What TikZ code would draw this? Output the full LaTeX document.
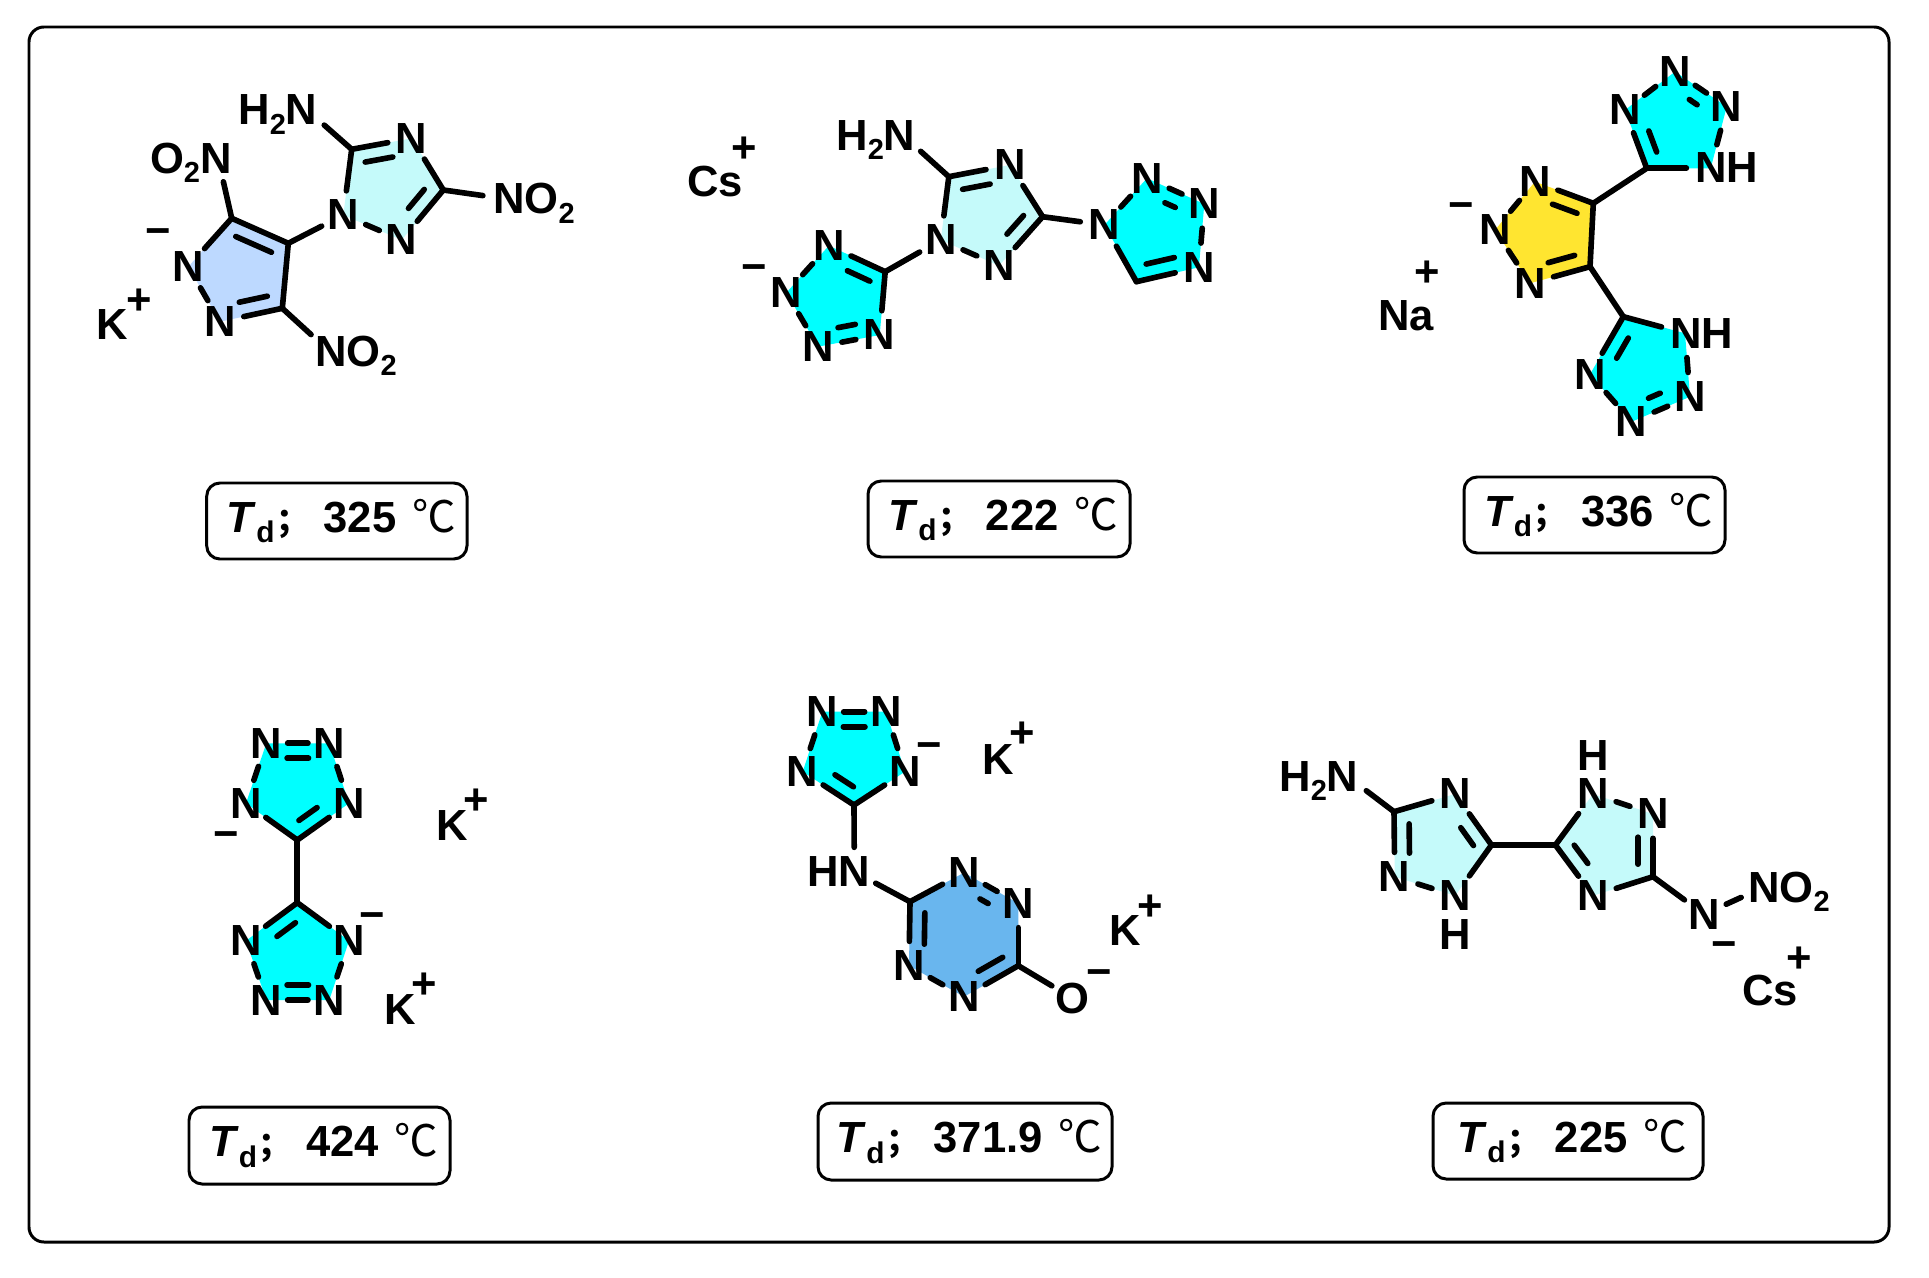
\documentclass[tikz,border=0pt]{standalone}
\usepackage{fontspec}
\setmainfont{Liberation Sans}
\newfontfamily\cjkf{Noto Sans CJK SC}
\usetikzlibrary{backgrounds,calc}
\newcommand\subs[1]{\raisebox{-0.21em}{\fontsize{16.5}{16.5}\selectfont #1}}
\newcommand\bd[3][]{\draw[bond,#1] (#2) -- (#3);}
\newcommand\dbl[5][]{\draw[bond,#1] (#2) -- (#3);
  \draw[bond] ($(#2)!#4!(#3)!.3cm!-90:(#3)$) -- ($(#2)!#5!(#3)!.3cm!-90:(#3)$);}
\newcommand\tval[8]{\node[tdbox,minimum width=#4*.02cm-#2*.02cm,minimum height=#5*.02cm-#3*.02cm] (#1) at ({(#2+#4)/2},{(#3+#5)/2})
  {\hspace{5pt}\textit{T}\raisebox{-0.25em}{\fontsize{17}{17}\selectfont d}\hspace{1pt}{\cjkf\fontsize{19}{19}\selectfont ；}\hspace{#7}#6\hspace{#8}{\cjkf\mdseries ℃}};}
\tikzset{
  bond/.style={line width=3.2pt,line cap=round,line join=round,black},
  atom/.style={circle,minimum size=.96cm,inner sep=0pt,font=\fontsize{24.8}{28}\selectfont\bfseries},
  hit/.style={circle,minimum size=.96cm,inner sep=0pt},
  txt/.style={anchor=base west,inner sep=0pt,font=\fontsize{24.8}{28}\selectfont\bfseries},
  chg/.style={anchor=center,inner sep=0pt,yshift=-.05cm,font=\fontsize{24.8}{28}\selectfont\bfseries},
  chgm/.style={anchor=center,inner sep=0pt,yshift=-.11cm,font=\fontsize{24.8}{28}\selectfont\bfseries},
  lab/.style={anchor=center,inner sep=0pt,font=\fontsize{24.8}{28}\selectfont\bfseries},
  tdbox/.style={draw=black,line width=1.7pt,rounded corners=7.5pt,inner sep=0pt,font=\fontsize{24.8}{28}\selectfont\bfseries},
  frame/.style={draw=black,line width=1.7pt,rounded corners=8.5pt},
}
\definecolor{ltcyan}{HTML}{C5FAFA}
\definecolor{ltblue}{HTML}{BDD9FF}
\definecolor{cyanr}{HTML}{00FFFF}
\definecolor{yel}{HTML}{FFE530}
\definecolor{midblue}{HTML}{69B6EE}
\begin{document}
\begin{tikzpicture}[x=0.02cm,y=-0.02cm]
\useasboundingbox (0,0) rectangle (1929,1277);
\draw[frame] (29,27) rectangle (1889,1242);

% ---------- molecule 1
\node[txt] (aHtxt) at (238,125) {H\subs{2}N};
\node[hit] (aH) at (306,109) {};
\node[txt] (aOtxt) at (149.7,173.3) {O\subs{2}N};
\node[hit] (aO) at (218,158) {};
\node[txt] (aRtxt) at (493,214) {NO\subs{2}};
\node[hit] (aR) at (507,199) {};
\node[txt] (aBtxt) at (315,366) {NO\subs{2}};
\node[hit] (aB) at (329,351) {};
\coordinate (a1) at (351.7,149.3);
\node[atom] (a2) at (411.7,138.3) {N};
\coordinate (a3) at (443.3,190);
\node[atom] (a4) at (401.7,240) {N};
\node[atom] (a5) at (343.3,215) {N};
\coordinate (b1) at (231.7,218.3);
\coordinate (b2) at (288.3,243.3);
\coordinate (b3) at (282.3,308.3);
\node[atom] (b4) at (220,321.7) {N};
\node[atom] (b5) at (188.3,266.7) {N};
\node[chgm] (am) at (158.3,231.7) {−};
\node[txt] (aK) at (96.3,339) {K};
\node[chg] (ap) at (139.3,299) {+};
\dbl{a1}{a2}{.18}{.64}
\bd{a2}{a3}
\dbl{a3}{a4}{.18}{.56}
\bd{a4}{a5}
\bd{a5}{a1}
\bd{a1}{aH}
\bd{a3}{aR}
\dbl{b1}{b2}{.18}{.81}
\bd{b2}{b3}
\dbl{b3}{b4}{.19}{.64}
\bd{b4}{b5}
\bd{b5}{b1}
\bd{b1}{aO}
\bd{b3}{aB}
\bd{b2}{a5}
\begin{pgfonlayer}{background}
\fill[ltcyan] (a1.center)--(a2.center)--(a3.center)--(a4.center)--(a5.center)--cycle;
\fill[ltblue] (b1.center)--(b2.center)--(b3.center)--(b4.center)--(b5.center)--cycle;
\end{pgfonlayer}
\tval{aT}{206.7}{483}{467}{559}{325}{8pt}{9pt}

% ---------- molecule 2
\node[txt] (cCs) at (687,196.7) {Cs};
\node[chg] (cp) at (743.8,147.7) {+};
\node[txt] (cHtxt) at (836,150.7) {H\subs{2}N};
\node[hit] (cH) at (902.6,135) {};
\coordinate (c1) at (948.8,176.7);
\node[atom] (c2) at (1009.9,165) {N};
\coordinate (c3) at (1042.6,216.7);
\node[atom] (c4) at (999,265.7) {N};
\node[atom] (c5) at (940.8,240) {N};
\node[atom] (d1) at (1104.4,225) {N};
\node[atom] (d2) at (1146.9,178.3) {N};
\node[atom] (d3) at (1204.3,204) {N};
\node[atom] (d4) at (1198.9,267.3) {N};
\coordinate (d5) at (1136.4,281.7);
\coordinate (e1) at (885.2,271.7);
\node[atom] (e2) at (879.7,335) {N};
\node[atom] (e3) at (818,346.7) {N};
\node[atom] (e4) at (786.3,292.7) {N};
\node[atom] (e5) at (828.9,245.7) {N};
\node[chgm] (cm) at (754.3,267.7) {−};
\dbl{c1}{c2}{.18}{.63}
\bd{c2}{c3}
\dbl{c3}{c4}{.18}{.56}
\bd{c4}{c5}
\bd{c5}{c1}
\bd{c1}{cH}
\bd{c3}{d1}
\bd{d1}{d2}
\dbl{d2}{d3}{.42}{.6}
\bd{d3}{d4}
\dbl{d4}{d5}{.34}{.79}
\bd{d5}{d1}
\bd{e1}{e2}
\dbl{e2}{e3}{.35}{.63}
\bd{e3}{e4}
\bd{e4}{e5}
\dbl{e5}{e1}{.44}{.84}
\bd{e1}{c5}
\begin{pgfonlayer}{background}
\fill[ltcyan] (c1.center)--(c2.center)--(c3.center)--(c4.center)--(c5.center)--cycle;
\fill[cyanr] (d1.center)--(d2.center)--(d3.center)--(d4.center)--(d5.center)--cycle;
\fill[cyanr] (e1.center)--(e2.center)--(e3.center)--(e4.center)--(e5.center)--cycle;
\end{pgfonlayer}
\tval{cT}{868}{481}{1130}{557}{222}{8pt}{9pt}

% ---------- molecule 3
\node[atom] (f1) at (1535,181.7) {N};
\coordinate (f2) at (1593.3,203.3);
\coordinate (f3) at (1590,266.7);
\node[atom] (f4) at (1530,283.3) {N};
\node[atom] (f5) at (1495,230) {N};
\node[chgm] (fm) at (1461,205.7) {−};
\node[chg] (fp) at (1427.7,271) {+};
\node[txt] (fNa) at (1378,330) {Na};
\coordinate (g1) at (1646.7,168.3);
\node[atom] (g2) at (1625,110) {N};
\node[atom] (g3) at (1675,71.7) {N};
\node[atom] (g4) at (1726.7,106.7) {N};
\node[txt] (g5txt) at (1695,182.7) {NH};
\node[hit] (g5) at (1710.7,168.3) {};
\coordinate (h1) at (1623.3,316.7);
\node[txt] (h2txt) at (1670,348.3) {NH};
\node[hit] (h2) at (1685,333.3) {};
\node[atom] (h3) at (1690,396.7) {N};
\node[atom] (h4) at (1631.7,421.7) {N};
\node[atom] (h5) at (1590,374.3) {N};
\dbl{f1}{f2}{.39}{.81}
\bd{f2}{f3}
\dbl{f3}{f4}{.19}{.63}
\bd{f4}{f5}
\bd{f5}{f1}
\bd{f2}{g1}
\bd{f3}{h1}
\dbl{g1}{g2}{.19}{.55}
\bd{g2}{g3}
\dbl{g3}{g4}{.44}{.59}
\bd{g4}{g5}
\bd{g5}{g1}
\bd{h1}{h2}
\bd{h2}{h3}
\dbl{h3}{h4}{.41}{.61}
\bd{h4}{h5}
\dbl{h5}{h1}{.41}{.76}
\begin{pgfonlayer}{background}
\fill[yel] (f1.center)--(f2.center)--(f3.center)--(f4.center)--(f5.center)--cycle;
\fill[cyanr] (g1.center)--(g2.center)--(g3.center)--(g4.center)--(g5.center)--cycle;
\fill[cyanr] (h1.center)--(h2.center)--(h3.center)--(h4.center)--(h5.center)--cycle;
\end{pgfonlayer}
\tval{fT}{1464}{477}{1725}{553}{336}{8pt}{9pt}

% ---------- molecule 4
\node[atom] (i1) at (266.3,743.3) {N};
\node[atom] (i2) at (329.3,743.3) {N};
\node[atom] (i3) at (349,803.3) {N};
\coordinate (i4) at (297.3,840);
\node[atom] (i5) at (246,803.3) {N};
\coordinate (j1) at (297.3,902.7);
\node[atom] (j2) at (349,940.7) {N};
\node[atom] (j3) at (329.3,1000) {N};
\node[atom] (j4) at (266.3,1000) {N};
\node[atom] (j5) at (246,940.7) {N};
\node[chgm] (im) at (226,834.7) {−};
\node[chgm] (jm) at (372.7,915.3) {−};
\node[txt] (iK) at (436.3,840) {K};
\node[chg] (ip) at (476.7,799) {+};
\node[txt] (jK) at (384,1024) {K};
\node[chg] (jp) at (424,983.3) {+};
\dbl[shorten >=-.06cm,shorten <=-.06cm]{i1}{i2}{.33}{.67}
\bd{i2}{i3}
\dbl{i3}{i4}{.45}{.80}
\bd{i4}{i5}
\bd{i5}{i1}
\bd{i4}{j1}
\bd{j1}{j2}
\bd{j2}{j3}
\dbl[shorten >=-.06cm,shorten <=-.06cm]{j3}{j4}{.33}{.67}
\bd{j4}{j5}
\dbl{j5}{j1}{.43}{.79}
\begin{pgfonlayer}{background}
\fill[cyanr] (i1.center)--(i2.center)--(i3.center)--(i4.center)--(i5.center)--cycle;
\fill[cyanr] (j1.center)--(j2.center)--(j3.center)--(j4.center)--(j5.center)--cycle;
\end{pgfonlayer}
\tval{iT}{189}{1107}{450}{1184}{424}{8pt}{9pt}

% ---------- molecule 5
\node[atom] (k1) at (822.3,711.7) {N};
\node[atom] (k2) at (886,711.7) {N};
\node[atom] (k3) at (905,771.7) {N};
\coordinate (k4) at (854,805);
\node[atom] (k5) at (802.7,771.7) {N};
\node[chgm] (km) at (929,746) {−};
\node[txt] (kK) at (982,774.3) {K};
\node[chg] (kp) at (1022.7,732.3) {+};
\node[txt] (lHtxt) at (807,886.7) {HN};
\node[hit] (lH) at (854.3,871.7) {};
\coordinate (l1) at (910,901.7);
\node[atom] (l2) at (964,872.7) {N};
\node[atom] (l3) at (1018.3,903.3) {N};
\coordinate (l4) at (1018.3,965.7);
\node[atom] (l5) at (964,996.7) {N};
\node[atom] (l6) at (909,965.7) {N};
\node[atom] (lO) at (1072.7,998.3) {O};
\node[chgm] (lm) at (1099,972.3) {−};
\node[txt] (lK) at (1109.3,945) {K};
\node[chg] (lp) at (1150,905) {+};
\dbl[shorten >=-.06cm,shorten <=-.06cm]{k1}{k2}{.33}{.67}
\bd{k2}{k3}
\bd{k3}{k4}
\dbl{k4}{k5}{.17}{.53}
\bd{k5}{k1}
\bd{k4}{lH}
\bd{lH}{l1}
\bd{l1}{l2}
\dbl{l2}{l3}{.43}{.58}
\bd{l3}{l4}
\dbl{l4}{l5}{.15}{.60}
\bd{l5}{l6}
\dbl{l6}{l1}{.34}{.83}
\bd{l4}{lO}
\begin{pgfonlayer}{background}
\fill[cyanr] (k1.center)--(k2.center)--(k3.center)--(k4.center)--(k5.center)--cycle;
\fill[midblue] (l1.center)--(l2.center)--(l3.center)--(l4.center)--(l5.center)--(l6.center)--cycle;
\end{pgfonlayer}
\tval{kT}{818}{1103}{1112}{1180}{371.9}{8pt}{9pt}

% ---------- molecule 6
\node[txt] (mHtxt) at (1279,791) {H\subs{2}N};
\node[hit] (mH) at (1346.9,776) {};
\coordinate (m1) at (1394,811.7);
\node[atom] (m2) at (1455.2,794) {N};
\coordinate (m3) at (1491.5,845);
\node[atom] (m4) at (1455.2,895.7) {N};
\node[atom] (m5) at (1394.7,876.7) {N};
\node[lab] (mHb) at (1455.2,934) {H};
\coordinate (n1) at (1555.4,845);
\node[atom] (n2) at (1593,794) {N};
\node[lab] (nHt) at (1593,756) {H};
\node[atom] (n3) at (1653,814) {N};
\coordinate (n4) at (1653,876.7);
\node[atom] (n5) at (1593,895.7) {N};
\node[atom] (n6) at (1704,914.3) {N};
\node[txt] (n7txt) at (1748,902.7) {NO\subs{2}};
\node[hit] (n7) at (1763.3,887.3) {};
\node[chgm] (nm) at (1724.2,945) {−};
\node[chg] (np) at (1798.8,957.7) {+};
\node[txt] (nCs) at (1742,1005.7) {Cs};
\bd{m1}{m2}
\dbl{m2}{m3}{.49}{.84}
\bd{m3}{m4}
\bd{m4}{m5}
\dbl{m5}{m1}{.36}{.81}
\bd{m1}{mH}
\draw[bond,line width=3.5pt] (m3) -- (n1);
\bd{n1}{n2}
\bd{n2}{n3}
\dbl{n3}{n4}{.37}{.80}
\bd{n4}{n5}
\dbl{n5}{n1}{.46}{.82}
\bd{n4}{n6}
\bd{n6}{n7}
\begin{pgfonlayer}{background}
\fill[ltcyan] (m1.center)--(m2.center)--(m3.center)--(m4.center)--(m5.center)--cycle;
\fill[ltcyan] (n1.center)--(n2.center)--(n3.center)--(n4.center)--(n5.center)--cycle;
\end{pgfonlayer}
\tval{nT}{1433}{1103}{1703}{1179}{225}{8pt}{9pt}
\end{tikzpicture}
\end{document}
